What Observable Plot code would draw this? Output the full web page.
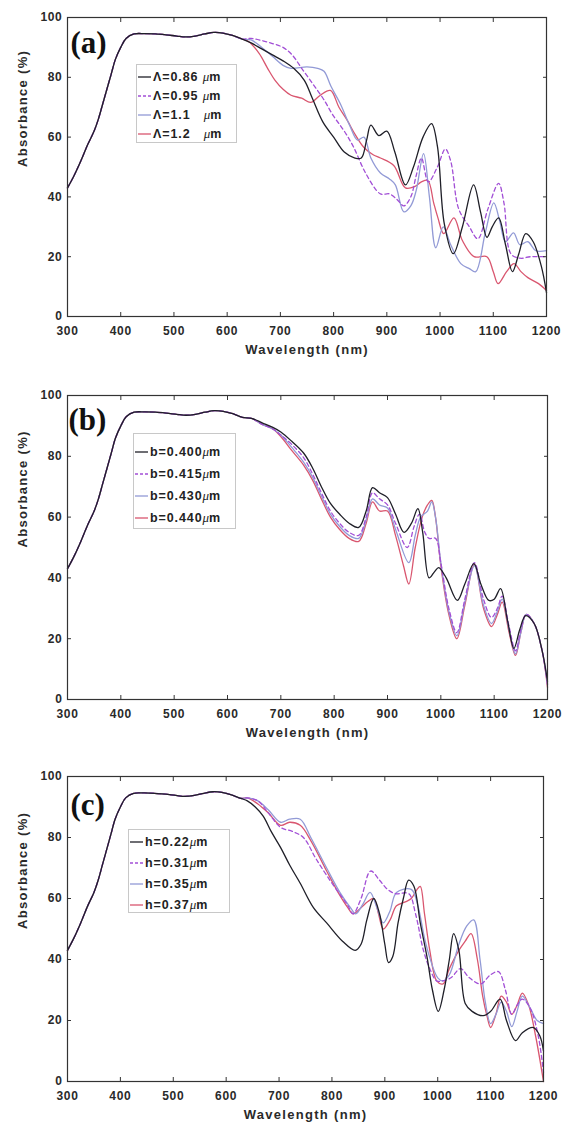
<!DOCTYPE html>
<html>
<head>
<meta charset="utf-8">
<script src="https://cdn.jsdelivr.net/npm/d3@7"></script>
<script src="https://cdn.jsdelivr.net/npm/@observablehq/plot@0.6"></script>
<style>
  html, body { margin: 0; padding: 0; background: #fff; }
  #root { position: relative; width: 573px; }
  .panel { position: relative; width: 573px; }
  .panel svg { display: block; }
  .panel svg [aria-label$="tick label"] text { letter-spacing: 0.7px; }
  .legend {
    position: absolute; background: #fff; border: 1px solid #c8c8c8;
    font-family: "Liberation Sans", Arial, sans-serif; font-weight: bold;
    font-size: 12.5px; color: #222; box-sizing: border-box;
  }
  .legend .row { display: flex; align-items: center; white-space: pre; letter-spacing: 0.9px; }
  .legend .row svg { flex: none; margin-right: 2px; }
  .mu { font-family: "Liberation Serif", serif; font-style: italic; font-weight: normal; font-size: 13px; letter-spacing: 0; }
</style>
</head>
<body>
<div id="root"></div>
<script>
// ---------- shared tick values ----------
const xTicks = [300, 400, 500, 600, 700, 800, 900, 1000, 1100, 1200];
const yTicks = [0, 20, 40, 60, 80, 100];
const xTitle = "Wavelength (nm)";
const yTitle = "Absorbance (%)";

// ---------- common rising part (all curves coincide) ----------
const commonPart = [[300,43],[312,47],[325,52],[338,57.5],[350,62],[358,66],[366,71],[374,76],[382,81],[390,86],[400,90],[410,93],[425,94.5],[445,94.6],[465,94.5],[485,94.2],[505,93.8],[522,93.5],[540,93.8],[558,94.5],[575,95],[592,94.8],[610,94],[628,92.8]];

// ---------- panel (a): period Λ ----------
const labelsA = ["Λ=0.86 ", "Λ=0.95 ", "Λ=1.1   ", "Λ=1.2   "];
const a086 = [[645,91.5],[665,89.5],[685,87.5],[705,85.5],[725,83],[745,79],[760,73],[780,65],[800,60],[820,55],[840,53],[852,53],[862,59],[870,64],[885,60.5],[900,62],[915,55],[935,44],[950,50],[968,60],[984,64.5],[995,57],[1008,31],[1025,21],[1042,30],[1063,44],[1076,35],[1088,26.5],[1098,30],[1110,33],[1123,24],[1136,15],[1148,21],[1161,27.7],[1175,25],[1190,17],[1200,8]];
const a095 = [[645,93],[665,92.3],[685,91.3],[705,90],[722,87.5],[740,83],[760,78],[780,73],[800,67],[820,62],[838,56.5],[860,48],[888,41],[905,41],[920,39],[932,37],[945,40],[955,47],[965,53],[978,45],[995,50],[1010,56],[1020,52],[1035,36],[1055,30],[1071,26],[1090,36],[1110,44.5],[1120,38],[1133,21],[1150,19.5],[1170,20],[1200,20]];
const a110 = [[645,92.5],[665,90],[685,87],[705,84],[720,83],[750,83.5],[770,83],[782,82],[795,77],[813,71],[830,64],[845,59],[857,60],[870,53],[888,48],[905,46],[916,44],[932,35],[945,37],[955,42],[969,54.5],[980,40],[992,23],[1006,30],[1020,24],[1039,17.7],[1055,16],[1067,15],[1085,28],[1101,38],[1112,32],[1123,25],[1138,28],[1150,24],[1165,25],[1180,22],[1200,22]];
const a120 = [[640,92],[660,88],[676,83],[690,79],[705,76],[720,74],[740,73],[757,71.6],[775,74],[794,75.6],[810,70],[826,65.5],[840,61],[857,56.5],[875,54],[888,53],[913,50.5],[935,43],[953,43.5],[965,45],[977,45.5],[988,38],[996,33],[1007,27.7],[1026,33],[1042,25.4],[1064,20],[1088,20],[1100,15],[1109,11],[1125,15],[1139,17.7],[1152,15],[1165,13],[1185,11],[1200,8.7]];

// ---------- panel (b): width b ----------
const labelsB = ["b=0.400", "b=0.415", "b=0.430", "b=0.440"];
const b400 = [[645,92.5],[665,91],[685,89.5],[700,88],[720,85],[743,81],[760,76],[776,70],[793,64.5],[810,61],[828,58],[846,56.6],[860,62],[872,69.7],[885,68],[900,66.4],[915,61],[931,55],[945,58],[957,62.8],[966,55],[978,40],[988,42],[996,43.4],[1010,40],[1031,32.6],[1045,38],[1062,44.7],[1075,38],[1090,32.6],[1100,33],[1112,36.5],[1125,26],[1137,16.8],[1148,23],[1159,27.6],[1175,25],[1190,16],[1200,6]];
const b415 = [[645,92.5],[665,90.5],[685,89],[700,87],[720,84],[743,79.5],[760,74],[776,68],[793,62],[810,58],[828,55],[846,54],[860,60],[872,68],[885,66],[900,64],[915,58],[937,50],[950,57],[960,61],[970,55],[978,53],[990,53],[1000,45],[1015,30],[1030,22],[1045,33],[1063,45],[1080,33],[1095,27],[1106,30],[1115,34],[1128,24],[1140,16],[1150,23],[1160,28],[1175,25],[1190,16],[1200,5]];
const b430 = [[645,92.5],[665,90.5],[685,89],[700,87],[720,83],[743,78],[760,73],[776,67],[793,61],[810,57],[828,54],[846,53],[860,59],[872,66],[885,64],[900,63],[915,56],[940,45],[952,54],[962,60],[975,62],[983,65],[990,60],[1000,45],[1015,29],[1030,21],[1045,32],[1063,44],[1080,31],[1095,25],[1106,29],[1115,33],[1128,23],[1140,15],[1150,22],[1160,28],[1175,25],[1190,16],[1200,5]];
const b440 = [[645,92.5],[665,90.5],[685,89],[700,86.5],[720,82],[743,77],[760,72],[776,66],[793,60],[810,56],[828,53],[846,52],[860,58],[872,65],[885,62],[900,62],[915,54],[930,44],[940,38],[952,50],[965,60],[975,64],[983,65.5],[990,60],[1000,44],[1015,28],[1030,20],[1045,31],[1063,44.5],[1080,30],[1095,24],[1106,28],[1115,32],[1128,22],[1140,14.5],[1150,22],[1160,28],[1175,25],[1190,16],[1200,4]];

// ---------- panel (c): height h ----------
const labelsC = ["h=0.22", "h=0.31", "h=0.35", "h=0.37"];
const h022 = [[640,92],[655,90],[670,87],[685,82],[703,76.7],[720,71],[740,65],[765,57],[790,52],[820,46],[844,43],[855,45],[866,53],[879,60],[890,55],[900,45],[907,39],[915,41],[925,52],[935,60],[945,66],[955,64],[967,52],[980,40.6],[990,30],[1001,23],[1012,30],[1022,40],[1030,48.5],[1040,43],[1052,25.6],[1065,23],[1086,21.6],[1100,23],[1118,27],[1130,20],[1147,13.4],[1160,16],[1181,17.7],[1193,15],[1200,10]];
const h031 = [[640,93],[660,92],[680,88],[703,83.3],[725,82],[746,80],[770,73],[800,65],[829,58],[840,55],[855,60],[873,69],[890,66],[905,63],[920,61.6],[945,61.6],[958,55],[973,43],[985,37],[998,33],[1010,33],[1025,34],[1043,37],[1060,34],[1081,32],[1100,35],[1115,36],[1128,30],[1140,22],[1150,25],[1160,27],[1175,24],[1190,15],[1200,3]];
const h035 = [[640,93],[660,92],[680,89],[703,85],[720,86],[740,86],[760,80],[790,70],[815,62],[835,57],[845,55],[858,58],[872,62],[885,57],[897,52],[910,56],[922,62],[950,63],[962,58],[975,47],[985,40.6],[1000,34],[1010,33],[1022,35],[1040,45],[1055,51],[1068,53],[1080,40],[1090,26],[1100,19],[1110,22],[1120,26],[1130,23],[1140,18],[1150,23],[1160,28],[1175,24],[1188,20],[1200,19]];
const h037 = [[640,93],[660,91],[680,88],[703,84],[720,85],[740,84],[760,79],[790,69],[815,61],[830,57],[840,55],[855,57],[868,59],[879,60],[888,55],[897,50],[910,53],[922,57.6],[940,59],[950,60],[961,63],[967,64],[975,55],[985,43],[998,33],[1010,32],[1022,37],[1040,43],[1052,46],[1063,48.5],[1075,40],[1085,28],[1093,21.6],[1100,17.7],[1110,22],[1120,28],[1130,26],[1140,22],[1150,25],[1160,29],[1172,25],[1185,15],[1200,0]];

// ---------- styles per series ----------
const seriesColors = ["#1f1f28", "#a24fd6", "#929ad6", "#d9566f"];
const seriesDash = [null, "4,3", null, null];

function full(part) {
  return commonPart.concat(part).map(([wl, abs]) => ({wl, abs}));
}

function makePanel(cfg) {
  const panel = document.createElement("div");
  panel.className = "panel";
  panel.style.height = cfg.height + "px";
  const lines = cfg.series.map((s, i) =>
    Plot.line(full(s), {
      x: "wl", y: "abs", curve: "catmull-rom",
      stroke: seriesColors[i], strokeWidth: 1.3,
      strokeDasharray: seriesDash[i] || undefined
    })
  );
  const order = [3, 2, 1, 0];
  const titleStyle = {fontSize: 13, fontWeight: "bold", fill: "#2a2a2a", fontFamily: "'Liberation Sans', Arial, sans-serif"};
  const chart = Plot.plot({
    width: 573,
    height: cfg.height,
    marginLeft: 67,
    marginRight: cfg.marginRight,
    marginTop: cfg.marginTop,
    marginBottom: cfg.marginBottom,
    style: {
      fontFamily: "'Liberation Sans', Arial, sans-serif",
      fontSize: "12px",
      fontWeight: "bold",
      color: "#2a2a2a",
      background: "#fff",
      overflow: "visible"
    },
    x: {domain: [300, 1200]},
    y: {domain: [0, 100]},
    marks: [
      ...order.map(i => lines[i]),
      Plot.frame({stroke: "#333", strokeWidth: 1.2}),
      Plot.axisX({ticks: xTicks, tickSize: -4, tickPadding: 14, tickFormat: d => String(d), label: null, stroke: "#333"}),
      Plot.axisX({anchor: "top", ticks: xTicks, tickSize: -4, tickFormat: () => "", label: null, stroke: "#333"}),
      Plot.axisY({ticks: yTicks, tickSize: -4, tickPadding: 9, tickFormat: d => String(d), label: null, stroke: "#333"}),
      Plot.axisY({anchor: "right", ticks: yTicks, tickSize: -4, tickFormat: () => "", label: null, stroke: "#333"}),
      Plot.text([xTitle], {frameAnchor: "bottom", lineAnchor: "middle", dy: 33, ...titleStyle, letterSpacing: 1.3}),
      Plot.text([yTitle], {frameAnchor: "left", lineAnchor: "middle", dx: -45, rotate: -90, ...titleStyle, letterSpacing: 1.3}),
      Plot.text([cfg.letter], {
        frameAnchor: "top-left", textAnchor: "start", lineAnchor: "top",
        dx: cfg.letterDx, dy: cfg.letterDy,
        fontSize: 31, fontFamily: "'Liberation Serif', 'Times New Roman', serif",
        fontWeight: "bold", fill: "#111"
      })
    ]
  });
  // apply letter spacing to title text (text marks)
  chart.querySelectorAll("text").forEach(t => {
    if (t.textContent === xTitle || t.textContent === yTitle) t.style.letterSpacing = "1.3px";
  });
  panel.appendChild(chart);

  // legend box
  const lg = document.createElement("div");
  lg.className = "legend";
  lg.style.left = cfg.legend.left + "px";
  lg.style.top = cfg.legend.top + "px";
  lg.style.width = cfg.legend.width + "px";
  lg.style.height = cfg.legend.height + "px";
  lg.style.paddingTop = cfg.legend.padTop + "px";
  cfg.labels.forEach((lab, i) => {
    const row = document.createElement("div");
    row.className = "row";
    row.style.height = cfg.legend.rowH + "px";
    const dash = seriesDash[i] ? `stroke-dasharray="3,2"` : "";
    row.innerHTML = `<svg width="14" height="8"><line x1="1" y1="4" x2="14" y2="4" stroke="${seriesColors[i]}" stroke-width="1.3" ${dash}/></svg>` +
      `<span>${lab}</span><span class="mu">μ</span><span>m</span>`;
    lg.appendChild(row);
  });
  panel.appendChild(lg);
  return panel;
}

const root = document.getElementById("root");
root.appendChild(makePanel({
  height: 370, marginTop: 17, marginBottom: 54, marginRight: 27,
  series: [a086, a095, a110, a120], labels: labelsA, letter: "(a)",
  letterDx: 3, letterDy: 13,
  legend: {left: 136, top: 64, width: 101, height: 79, padTop: 2.5, rowH: 19}
}));
root.appendChild(makePanel({
  height: 380, marginTop: 25, marginBottom: 51, marginRight: 26,
  series: [b400, b415, b430, b440], labels: labelsB, letter: "(b)",
  letterDx: 1, letterDy: 12,
  legend: {left: 133, top: 63, width: 103, height: 96, padTop: 7, rowH: 22}
}));
root.appendChild(makePanel({
  height: 376, marginTop: 26, marginBottom: 45, marginRight: 30,
  series: [h022, h031, h035, h037], labels: labelsC, letter: "(c)",
  letterDx: 3, letterDy: 16,
  legend: {left: 128, top: 79, width: 102, height: 84, padTop: 1.5, rowH: 21}
}));
</script>
</body>
</html>
